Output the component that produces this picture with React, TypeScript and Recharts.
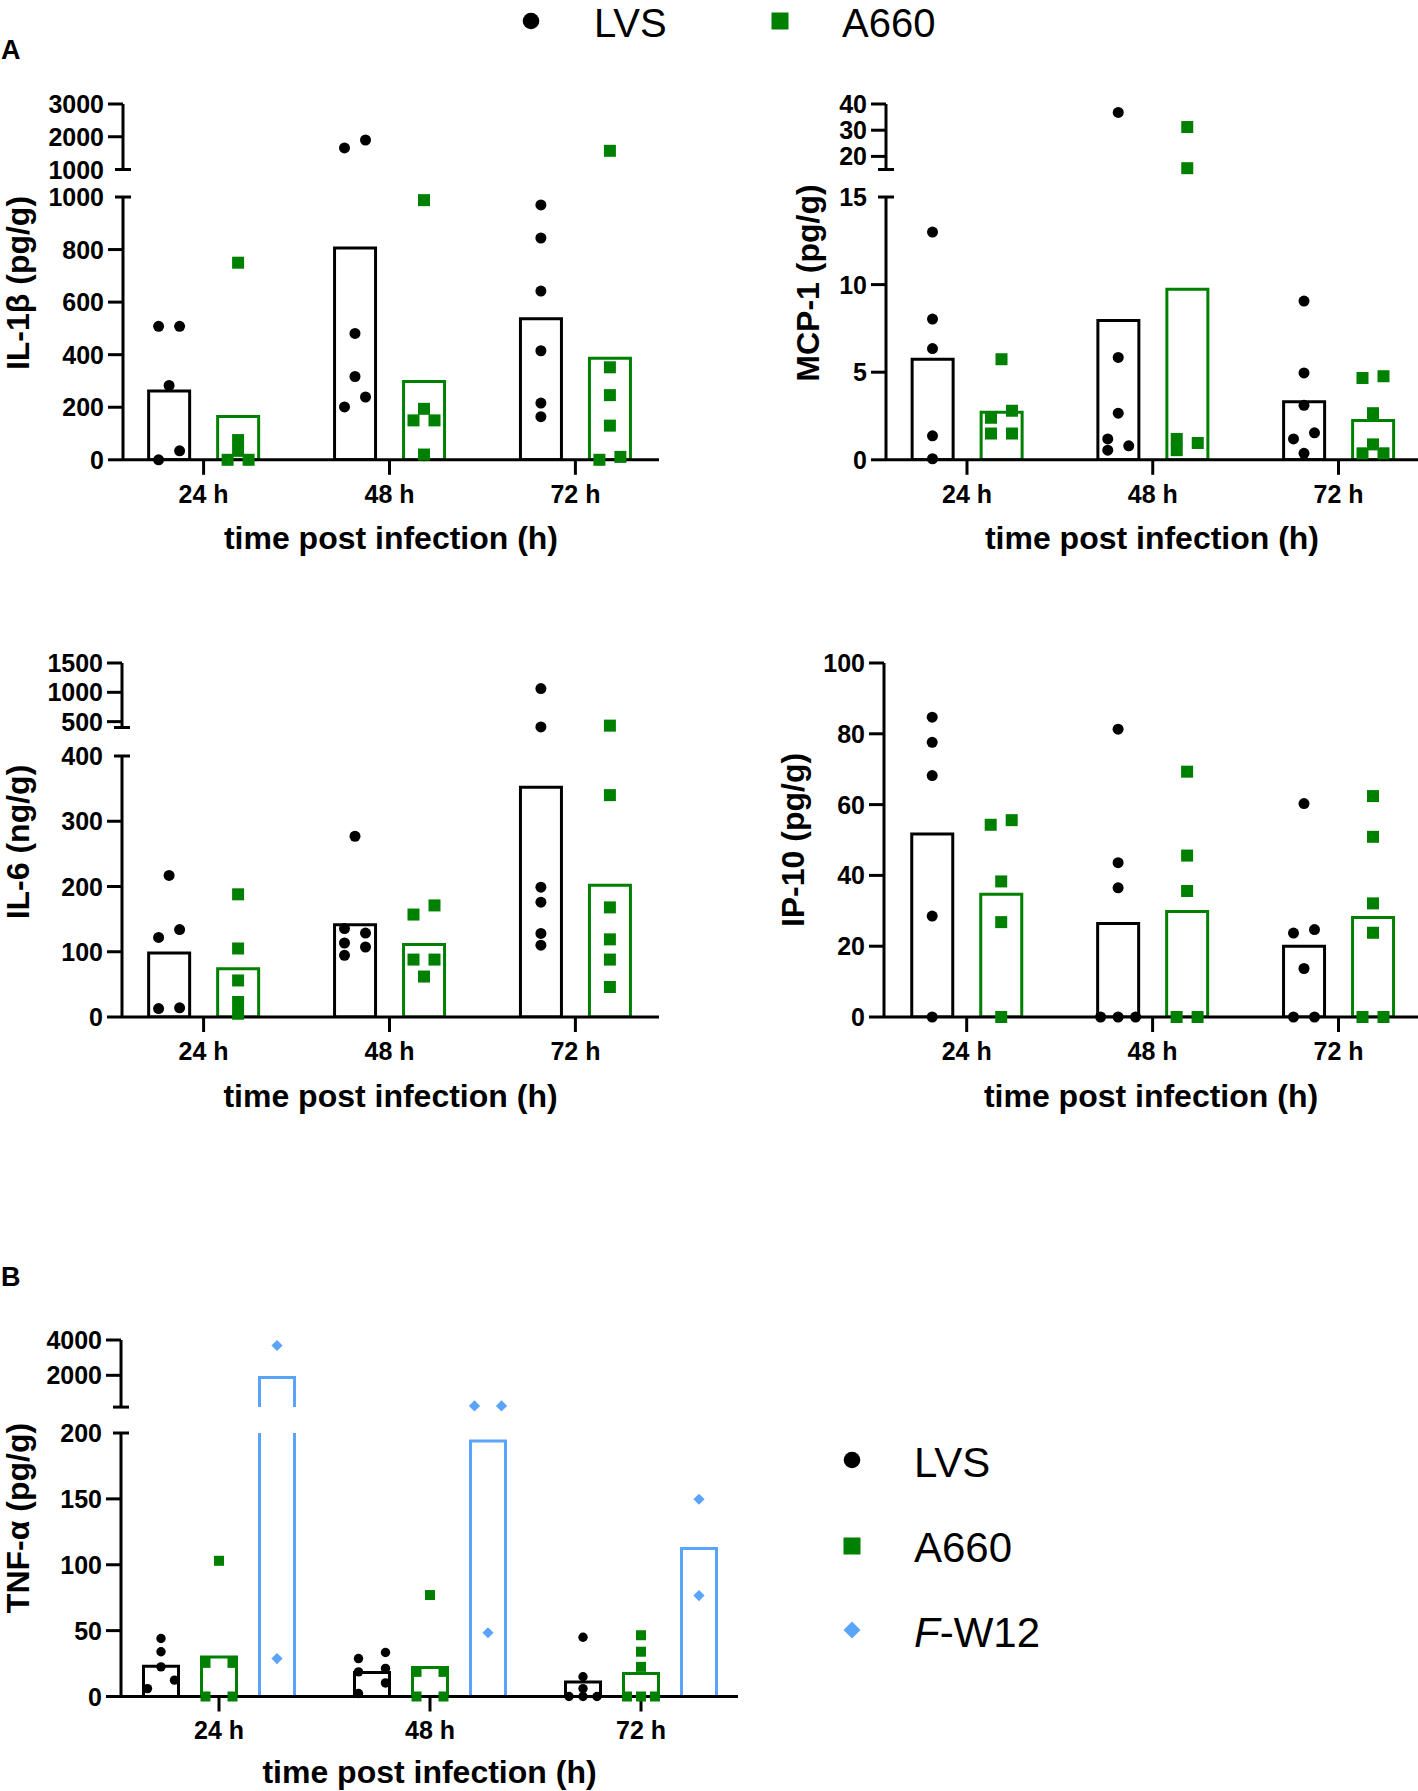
import React from "react";
import { Bar, ComposedChart, Scatter, XAxis, YAxis } from "recharts";

const FONT = '"Liberation Sans", Arial, Helvetica, sans-serif';
const BLACK = "#000000";
const GREEN = "#008000";
const BLUE = "#5AA5FA";

const TIMES = ["24 h", "48 h", "72 h"];
const X_TITLE = "time post infection (h)";

// IL-1β (pg/g), one list of animals per time point
const IL1B_LVS = [[508, 508, 283, 34, 0], [1901, 1659, 481, 317, 239, 201], [970, 844, 642, 415, 216, 164]];
const IL1B_LVS_MEAN = [262, 806, 537];
const IL1B_A660 = [[750, 75, 34, 0, 0], [988, 194, 150, 150, 20], [1571, 352, 246, 130, 11, 0]];
const IL1B_A660_MEAN = [165, 298, 386];
const IL1B_TICKS_LOW = [0, 200, 400, 600, 800, 1000];
const IL1B_TICKS_UP = [1000, 2000, 3000];

// MCP-1 (pg/g)
const MCP1_LVS = [[13.0, 8.03, 6.35, 1.37, 0.06], [36.8, 5.84, 2.66, 1.19, 0.8, 0.55], [9.06, 4.96, 3.11, 1.54, 1.19, 0.37]];
const MCP1_LVS_MEAN = [5.74, 7.95, 3.32];
const MCP1_A660 = [[5.74, 2.8, 2.4, 1.5, 1.5], [31.2, 15.5, 1.19, 0.96, 0.55], [4.77, 4.67, 2.66, 0.88, 0.37, 0.37]];
const MCP1_A660_MEAN = [2.72, 9.73, 2.25];
const MCP1_TICKS_LOW = [0, 5, 10, 15];
const MCP1_TICKS_UP = [15, 20, 30, 40];

// IL-6 (ng/g)
const IL6_LVS = [[217, 134, 122, 14, 13], [277, 135.5, 128.7, 113.4, 107.3, 94.6], [1063, 410, 199, 176, 128, 110]];
const IL6_LVS_MEAN = [98, 141.5, 352];
const IL6_A660 = [[188, 105, 56, 23, 5], [171, 157, 88, 88, 62], [432, 340, 168, 119, 88, 46]];
const IL6_A660_MEAN = [74, 111, 202];
const IL6_TICKS_LOW = [0, 100, 200, 300, 400];
const IL6_TICKS_UP = [400, 500, 1000, 1500];

// IP-10 (pg/g)
const IP10_LVS = [[84.7, 77.6, 68.2, 28.5, 0], [81.3, 43.6, 36.5, 0, 0, 0], [60.3, 24.7, 23.7, 13.7, 0, 0]];
const IP10_LVS_MEAN = [51.7, 26.4, 20];
const IP10_A660 = [[55.6, 54.3, 38.3, 26.8, 0], [69.3, 45.6, 35.6, 0, 0], [62.4, 50.9, 32.1, 23.8, 0, 0]];
const IP10_A660_MEAN = [34.7, 29.8, 28.1];
const IP10_TICKS = [0, 20, 40, 60, 80, 100];

// TNF-α (pg/g)
const TNF_LVS = [[44, 34, 22.5, 12.4, 6], [33.4, 28.8, 21.3, 18.7, 10.3, 2.3], [45, 15, 6, 0, 0, 0]];
const TNF_LVS_MEAN = [23, 18.2, 11];
const TNF_A660 = [[103, 25.5, 25.5, 0, 0], [77, 18.7, 18.7, 0, 0], [46.5, 34, 22.5, 0, 0, 0]];
const TNF_A660_MEAN = [30, 22, 17.5];
const TNF_FW12 = [[3688, 28.8], [267, 267, 48.4], [149.7, 76.6]];
const TNF_FW12_MEAN = [1875, 194, 112.4];
const TNF_TICKS_LOW = [0, 50, 100, 150, 200];
const TNF_TICKS_UP = [200, 2000, 4000];

type Kind = "circle" | "square" | "diamond";
type Series = { key: string; color: string; kind: Kind; values: number[][]; means: number[] };
type Seg = { top: number; bottom: number; domain: [number, number]; ticks: number[]; breakAt?: number; hideLabel?: number };
type Panel = {
  title: string; titleX: number; titleY: number; titleGap: number;
  axisX: number; right: number; firstTick: number; step: number;
  barSize: number; barGap: number;
  pairD: number; rowD: number; chainD: number;
  r: number; sq: number; dm: number;
  lower: Seg; upper?: Seg; series: Series[];
};

const lvs = (values: number[][], means: number[]): Series => ({ key: "lvs", color: BLACK, kind: "circle", values, means });
const a660 = (values: number[][], means: number[]): Series => ({ key: "a660", color: GREEN, kind: "square", values, means });
const fw12 = (values: number[][], means: number[]): Series => ({ key: "fw12", color: BLUE, kind: "diamond", values, means });

const IL_LOOK = { barSize: 41, barGap: 28, pairD: 21, rowD: 17.5, chainD: 10.3, r: 5.5, sq: 12, dm: 6, titleGap: 10.5 };

const PANELS: Panel[] = [
  {
    title: "IL-1β (pg/g)", titleX: 18, titleY: 283,
    axisX: 123, right: 659, firstTick: 203.6, step: 185.9, ...IL_LOOK,
    lower: { top: 196.7, bottom: 459.5, domain: [0, 1000], ticks: IL1B_TICKS_LOW, breakAt: 1000 },
    upper: { top: 104, bottom: 169.5, domain: [1000, 3000], ticks: IL1B_TICKS_UP, breakAt: 1000 },
    series: [lvs(IL1B_LVS, IL1B_LVS_MEAN), a660(IL1B_A660, IL1B_A660_MEAN)],
  },
  {
    title: "MCP-1 (pg/g)", titleX: 808, titleY: 283,
    axisX: 886, right: 1418, firstTick: 967, step: 185.75, ...IL_LOOK,
    lower: { top: 196.7, bottom: 459.5, domain: [0, 15], ticks: MCP1_TICKS_LOW, breakAt: 15 },
    upper: { top: 104, bottom: 169.5, domain: [15, 40], ticks: MCP1_TICKS_UP, breakAt: 15, hideLabel: 15 },
    series: [lvs(MCP1_LVS, MCP1_LVS_MEAN), a660(MCP1_A660, MCP1_A660_MEAN)],
  },
  {
    title: "IL-6 (ng/g)", titleX: 18, titleY: 842,
    axisX: 122, right: 659, firstTick: 203.6, step: 185.9, ...IL_LOOK,
    lower: { top: 755.7, bottom: 1016.7, domain: [0, 400], ticks: IL6_TICKS_LOW, breakAt: 400 },
    upper: { top: 662.7, bottom: 727.2, domain: [400, 1500], ticks: IL6_TICKS_UP, breakAt: 400, hideLabel: 400 },
    series: [lvs(IL6_LVS, IL6_LVS_MEAN), a660(IL6_A660, IL6_A660_MEAN)],
  },
  {
    title: "IP-10 (pg/g)", titleX: 793, titleY: 840,
    axisX: 884, right: 1418, firstTick: 966.7, step: 185.9, ...IL_LOOK,
    lower: { top: 662.7, bottom: 1016.7, domain: [0, 100], ticks: IP10_TICKS },
    series: [lvs(IP10_LVS, IP10_LVS_MEAN), a660(IP10_A660, IP10_A660_MEAN)],
  },
  {
    title: "TNF-α (pg/g)", titleX: 18, titleY: 1518, titleGap: 14,
    axisX: 121, right: 738, firstTick: 219, step: 211,
    barSize: 35, barGap: 23, pairD: 27, rowD: 14, chainD: 11, r: 4.7, sq: 10, dm: 5.6,
    lower: { top: 1432.8, bottom: 1696.3, domain: [0, 200], ticks: TNF_TICKS_LOW, breakAt: 200 },
    upper: { top: 1339.5, bottom: 1406.6, domain: [200, 4000], ticks: TNF_TICKS_UP, breakAt: 200, hideLabel: 200 },
    series: [lvs(TNF_LVS, TNF_LVS_MEAN), a660(TNF_A660, TNF_A660_MEAN), fw12(TNF_FW12, TNF_FW12_MEAN)],
  },
];

const YW = 110;
const PAD = 16;
const XH = 100;

function segOf(p: Panel, v: number): Seg {
  return p.upper && v > p.lower.domain[1] ? p.upper : p.lower;
}

function pageY(p: Panel, v: number) {
  const s = segOf(p, v);
  const [d0, d1] = s.domain;
  return s.bottom - ((v - d0) / (d1 - d0)) * (s.bottom - s.top);
}

// GraphPad-like scatter: equal values side by side, touching neighbours zig-zag
function spread(p: Panel, values: number[]) {
  const pts = values.map((v) => ({ v, py: pageY(p, v) })).sort((a, b) => b.py - a.py);
  const rows: { v: number; py: number }[][] = [];
  pts.forEach((pt) => {
    const last = rows[rows.length - 1];
    if (last && Math.abs(pt.py - last[0].py) < 3) last.push(pt);
    else rows.push([pt]);
  });
  const out: { v: number; dx: number }[] = [];
  let prev: number | null = null;
  let side = 0;
  rows.forEach((row, i) => {
    if (row.length > 1) {
      const d = row.length === 2 ? p.pairD : p.rowD;
      row.forEach((pt, j) => out.push({ v: pt.v, dx: (j - (row.length - 1) / 2) * d }));
      prev = null;
      side = 0;
      return;
    }
    const pt = row[0];
    const next = rows[i + 1];
    const withPrev = prev !== null && Math.abs(prev - pt.py) < p.chainD;
    const withNext = next && next.length === 1 && Math.abs(next[0].py - pt.py) < p.chainD;
    if (withPrev) side = -side;
    else if (withNext) side = -1;
    else side = 0;
    out.push({ v: pt.v, dx: (side * p.pairD) / 2 });
    prev = pt.py;
  });
  return out;
}

function shapeFor(kind: Kind, color: string, p: Panel) {
  return (props: any) => {
    const { cx, cy } = props;
    if (cx == null || cy == null) return <g />;
    if (kind === "circle") return <circle cx={cx} cy={cy} r={p.r} fill={color} />;
    if (kind === "square") return <rect x={cx - p.sq / 2} y={cy - p.sq / 2} width={p.sq} height={p.sq} fill={color} />;
    return <path d={`M${cx},${cy - p.dm}L${cx + p.dm},${cy}L${cx},${cy + p.dm}L${cx - p.dm},${cy}Z`} fill={color} />;
  };
}

function yTick(seg: Seg) {
  return (props: any) => {
    const { y, payload } = props;
    const v = payload.value;
    const br = v === seg.breakAt;
    return (
      <g>
        <line x1={br ? YW - 8 : YW - 15} x2={br ? YW + 8 : YW} y1={y} y2={y} stroke={BLACK} strokeWidth={3} />
        {v !== seg.hideLabel && (
          <text x={YW - 19} y={y} dy="0.36em" textAnchor="end" fontSize={25} fontWeight={700} fontFamily={FONT} fill={BLACK}>
            {v}
          </text>
        )}
      </g>
    );
  };
}

function Segment({ p, seg, showX }: { p: Panel; seg: Seg; showX: boolean }) {
  const lo = 1 - (p.firstTick - p.axisX) / p.step;
  const hi = 1 + (p.right - p.firstTick) / p.step;
  const plotW = p.right - p.axisX;
  const plotH = seg.bottom - seg.top;
  const isUpper = seg === p.upper;
  const n = p.series.length;

  const rows = TIMES.map((t, i) => {
    const r: any = { x: i + 1, time: t };
    p.series.forEach((s) => (r[s.key] = s.means[i]));
    return r;
  });

  const scatterData = p.series.map((s, k) => {
    const off = (k - (n - 1) / 2) * (p.barSize + p.barGap);
    const pts: { x: number; y: number }[] = [];
    s.values.forEach((vals, i) => {
      spread(p, vals).forEach(({ v, dx }) => {
        if (segOf(p, v) === seg) pts.push({ x: i + 1 + (off + dx) / p.step, y: v });
      });
    });
    return pts;
  });

  // in the top part of a broken axis only bars that reach past the break are shown
  const upperKey = (key: string) => (r: any) => (r[key] > seg.domain[0] ? [0, r[key]] : [0, 0]);

  return (
    <div style={{ position: "absolute", left: p.axisX - YW, top: seg.top - PAD }}>
      <ComposedChart
        width={YW + plotW + PAD}
        height={PAD + plotH + (showX ? XH : PAD)}
        data={rows}
        margin={{ top: PAD, right: PAD, bottom: showX ? 0 : PAD, left: 0 }}
        barGap={p.barGap}
      >
        <XAxis
          xAxisId="cat"
          type="number"
          dataKey="x"
          domain={[lo, hi]}
          ticks={[1, 2, 3]}
          tickCount={3}
          interval={0}
          hide={!showX}
          height={XH}
          tickFormatter={(v: number) => TIMES[v - 1]}
          axisLine={{ stroke: BLACK, strokeWidth: 3 }}
          tickLine={{ stroke: BLACK, strokeWidth: 3 }}
          tickSize={15}
          tickMargin={10}
          tick={{ fill: BLACK, fontSize: 25, fontWeight: 700, fontFamily: FONT }}
          label={{ value: X_TITLE, position: "insideBottom", offset: p.titleGap, fill: BLACK, fontSize: 32, fontWeight: 700, fontFamily: FONT }}
        />
        <XAxis xAxisId="pts" type="number" dataKey="x" domain={[lo, hi]} hide />
        <YAxis
          yAxisId="bars"
          type="number"
          domain={seg.domain}
          ticks={seg.ticks}
          interval={0}
          allowDataOverflow
          width={YW}
          axisLine={{ stroke: BLACK, strokeWidth: 3 }}
          tickLine={false}
          tick={yTick(seg)}
        />
        <YAxis yAxisId="pts" type="number" dataKey="y" domain={seg.domain} hide />
        {p.series.map((s) => (
          <Bar
            key={s.key}
            name={s.key}
            xAxisId="cat"
            yAxisId="bars"
            dataKey={isUpper ? upperKey(s.key) : s.key}
            barSize={p.barSize}
            fill="none"
            stroke={s.color}
            strokeWidth={3}
            isAnimationActive={false}
          />
        ))}
        {p.series.map((s, k) => (
          <Scatter
            key={s.key + "-pts"}
            xAxisId="pts"
            yAxisId="pts"
            data={scatterData[k]}
            dataKey="y"
            shape={shapeFor(s.kind, s.color, p)}
            isAnimationActive={false}
          />
        ))}
      </ComposedChart>
    </div>
  );
}

export default function App() {
  const txt = { fontFamily: FONT, fill: BLACK };
  return (
    <div style={{ position: "absolute", left: 0, top: 0, width: 1418, height: 1791, overflow: "hidden", background: "#fff" }}>
      <svg width={1418} height={1791} style={{ position: "absolute", left: 0, top: 0 }}>
        <text x={1} y={59} fontSize={27} fontWeight={700} {...txt}>A</text>
        <text x={1} y={1286} fontSize={27} fontWeight={700} {...txt}>B</text>

        <circle cx={531} cy={21} r={8.3} fill={BLACK} />
        <text x={594} y={36.5} fontSize={40} {...txt}>LVS</text>
        <rect x={771.5} y={12.5} width={17} height={17} fill={GREEN} />
        <text x={842} y={36.5} fontSize={40} {...txt}>A660</text>

        <circle cx={852} cy={1460} r={8.3} fill={BLACK} />
        <text x={914} y={1477} fontSize={42} {...txt}>LVS</text>
        <rect x={843.5} y={1537.5} width={17} height={17} fill={GREEN} />
        <text x={914} y={1562} fontSize={42} {...txt}>A660</text>
        <path d="M852,1621.5L860.5,1630L852,1638.5L843.5,1630Z" fill={BLUE} />
        <text x={914} y={1647} fontSize={42} {...txt}>
          <tspan fontStyle="italic">F</tspan>-W12
        </text>

        {PANELS.map((p) => (
          <text
            key={p.title}
            x={p.titleX}
            y={p.titleY}
            transform={`rotate(-90 ${p.titleX} ${p.titleY})`}
            textAnchor="middle"
            dominantBaseline="central"
            fontSize={32}
            fontWeight={700}
            {...txt}
          >
            {p.title}
          </text>
        ))}
      </svg>
      {PANELS.map((p) => (
        <React.Fragment key={p.title}>
          <Segment p={p} seg={p.lower} showX />
          {p.upper && <Segment p={p} seg={p.upper} showX={false} />}
        </React.Fragment>
      ))}
    </div>
  );
}
